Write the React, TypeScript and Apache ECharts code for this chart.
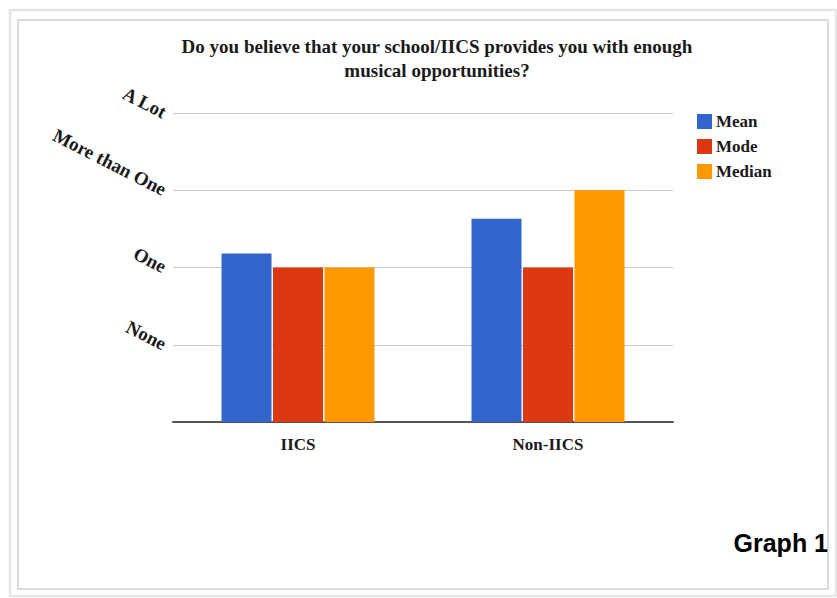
import React, { useEffect, useRef } from "react";
import * as echarts from "echarts";

const titleLines = [
  "Do you believe that your school/IICS provides you with enough",
  "musical opportunities?",
];
const categories = ["IICS", "Non-IICS"];
const seriesNames = ["Mean", "Mode", "Median"];
const meanValues = [2.18, 2.63];
const modeValues = [2, 2];
const medianValues = [2, 3];
const yTickLabels = ["", "None", "One", "More than One", "A Lot"];
const colors = ["#3366cc", "#dc3912", "#ff9900"];
const footnote = "Graph 1";

export default function App() {
  const ref = useRef<HTMLDivElement>(null);
  useEffect(() => {
    if (!ref.current) return;
    const chart = echarts.init(ref.current, null, { renderer: "svg" });
    const serif = "'Liberation Serif', 'Times New Roman', serif";
    const seriesData = [meanValues, modeValues, medianValues];
    chart.setOption({
      animation: false,
      backgroundColor: "#ffffff",
      title: {
        text: titleLines.join("\n"),
        left: 432,
        top: 29,
        textAlign: "center",
        textStyle: {
          fontFamily: serif,
          fontWeight: "bold",
          fontSize: 19,
          lineHeight: 24,
          color: "#1a1a1a",
        },
      },
      legend: {
        orient: "vertical",
        left: 692,
        top: 108,
        itemWidth: 15,
        itemHeight: 15,
        itemGap: 8,
        icon: "rect",
        data: seriesNames,
        textStyle: {
          fontFamily: serif,
          fontWeight: "bold",
          fontSize: 17,
          color: "#1a1a1a",
          padding: [0, 0, 0, -1],
        },
      },
      grid: { left: 173, right: 164, top: 113, bottom: 176, containLabel: false },
      xAxis: {
        type: "category",
        data: categories,
        axisLine: { lineStyle: { color: "#555", width: 2 } },
        axisTick: { show: false },
        axisLabel: {
          margin: 14,
          fontFamily: serif,
          fontWeight: "bold",
          fontSize: 17,
          color: "#1a1a1a",
        },
      },
      yAxis: {
        type: "value",
        min: 0,
        max: 4,
        interval: 1,
        axisLine: { show: false },
        axisTick: { show: false },
        splitLine: { lineStyle: { color: "#cccccc", width: 1 } },
        axisLabel: {
          rotate: -27,
          margin: 8,
          fontFamily: serif,
          fontWeight: "bold",
          fontSize: 19,
          color: "#1a1a1a",
          formatter: (v: number) => yTickLabels[Math.round(v)] ?? "",
        },
      },
      series: seriesNames.map((name, i) => ({
        name,
        type: "bar",
        data: seriesData[i],
        barWidth: 50,
        barGap: "3%",
        itemStyle: { color: colors[i] },
      })),
      graphic: [
        {
          type: "rect",
          shape: { x: 10, y: 10, width: 826, height: 586 },
          style: { fill: "none", stroke: "#e6e6e6", lineWidth: 2.5 },
          silent: true,
        },
        {
          type: "rect",
          shape: { x: 18, y: 20, width: 810, height: 569 },
          style: { fill: "none", stroke: "#d0d0d0", lineWidth: 1.5 },
          silent: true,
        },
        {
          type: "text",
          right: 9,
          top: 530,
          style: {
            text: footnote,
            font: "bold 25px 'Liberation Sans', Arial, sans-serif",
            fill: "#000",
          },
        },
      ],
    });
    return () => chart.dispose();
  }, []);
  return (
    <div
      ref={ref}
      style={{ position: "fixed", left: 0, top: 0, width: 837, height: 598 }}
    />
  );
}
